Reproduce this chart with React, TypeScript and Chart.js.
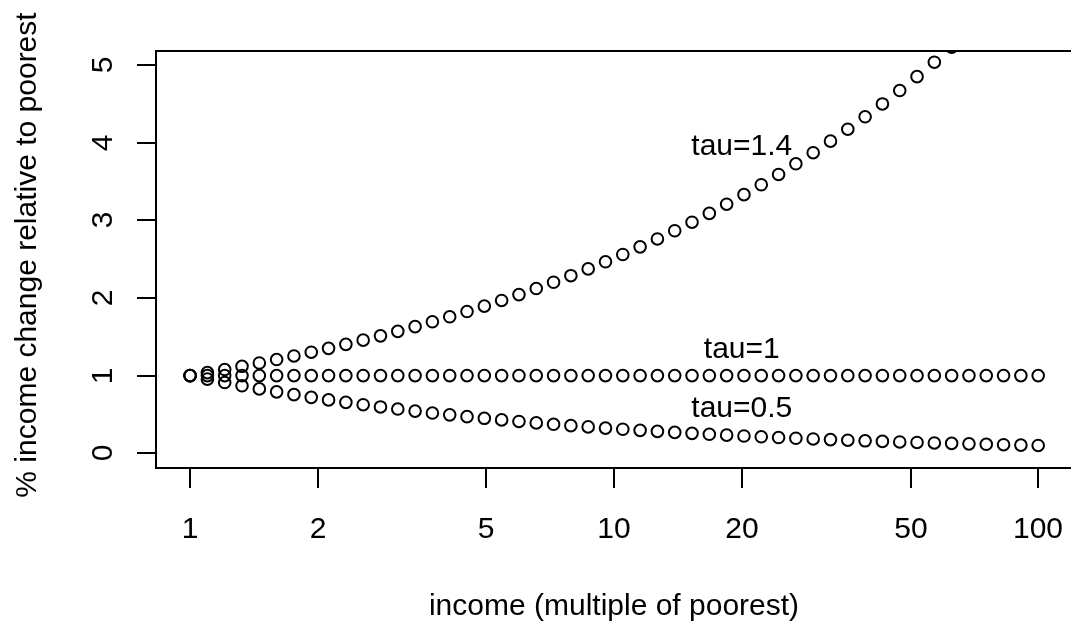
import React, { useEffect, useRef } from "react";
import { Chart, registerables } from "chart.js";

Chart.register(...registerables);

// income, multiples of the poorest (log spaced)
const INCOME = [
  1, 1.0985, 1.2067, 1.3257, 1.4563, 1.5998, 1.7575, 1.9307, 2.121, 2.33,
  2.5595, 2.8118, 3.0888, 3.3932, 3.7276, 4.0949, 4.4984, 4.9417, 5.4287, 5.9636,
  6.5513, 7.1969, 7.906, 8.6851, 9.541, 10.481, 11.514, 12.649, 13.895, 15.264,
  16.768, 18.421, 20.236, 22.23, 24.421, 26.827, 29.471, 32.375, 35.565, 39.069,
  42.919, 47.149, 51.795, 56.899, 62.506, 68.665, 75.431, 82.864, 91.03, 100,
];

const TAU_14 = [
  1, 1.0383, 1.0781, 1.1194, 1.1623, 1.2067, 1.253, 1.301, 1.3508, 1.4026,
  1.4563, 1.5121, 1.57, 1.6301, 1.6926, 1.7575, 1.8248, 1.8947, 1.9673, 2.0427,
  2.121, 2.2022, 2.2866, 2.3742, 2.4652, 2.5595, 2.6577, 2.7595, 2.8652, 2.975,
  3.0888, 3.2072, 3.3301, 3.4577, 3.5902, 3.7276, 3.8705, 4.0188, 4.1727, 4.3326,
  4.4984, 4.6708, 4.8497, 5.0355, 5.2285, 5.4287, 5.6367, 5.8526, 6.0769, 6.3096,
];

const TAU_10 = [
  1, 1, 1, 1, 1, 1, 1, 1, 1, 1,
  1, 1, 1, 1, 1, 1, 1, 1, 1, 1,
  1, 1, 1, 1, 1, 1, 1, 1, 1, 1,
  1, 1, 1, 1, 1, 1, 1, 1, 1, 1,
  1, 1, 1, 1, 1, 1, 1, 1, 1, 1,
];

const TAU_05 = [
  1, 0.9541, 0.9103, 0.8685, 0.8287, 0.7906, 0.7543, 0.7197, 0.6867, 0.6551,
  0.6251, 0.5964, 0.569, 0.5429, 0.5179, 0.4942, 0.4715, 0.4498, 0.4292, 0.4095,
  0.3907, 0.3728, 0.3556, 0.3393, 0.3237, 0.3089, 0.2947, 0.2812, 0.2683, 0.256,
  0.2442, 0.233, 0.2223, 0.2121, 0.2024, 0.1931, 0.1842, 0.1758, 0.1677, 0.16,
  0.1526, 0.1456, 0.1389, 0.1326, 0.1265, 0.1207, 0.1151, 0.1099, 0.1048, 0.1,
];

const X_TICKS = [1, 2, 5, 10, 20, 50, 100];
const Y_TICKS = [0, 1, 2, 3, 4, 5];

const LABEL_TEXT = ["tau=1.4", "tau=1", "tau=0.5"];
const LABEL_X = [20, 20, 20];
const LABEL_Y = [3.98, 1.36, 0.6];

const X_TITLE = "income (multiple of poorest)";
const Y_TITLE = "% income change relative to poorest";

const FONT = '30px "Liberation Sans", Arial, sans-serif';

const rPlotPlugin = {
  id: "rPlot",
  afterDatasetsDraw(chart: any) {
    const ctx = chart.ctx as CanvasRenderingContext2D;
    const { left, top, right, bottom } = chart.chartArea;
    const xs = chart.scales.x;
    const ys = chart.scales.y;
    ctx.save();
    ctx.strokeStyle = "#000";
    ctx.fillStyle = "#000";
    ctx.lineWidth = 2;
    // plot box (its right side lies outside the picture)
    ctx.beginPath();
    ctx.moveTo(right + 20, top);
    ctx.lineTo(left, top);
    ctx.lineTo(left, bottom);
    ctx.lineTo(right + 20, bottom);
    ctx.stroke();

    ctx.font = FONT;
    ctx.textAlign = "center";
    ctx.textBaseline = "alphabetic";
    X_TICKS.forEach((v) => {
      const px = Math.round(xs.getPixelForValue(v));
      ctx.beginPath();
      ctx.moveTo(px, bottom);
      ctx.lineTo(px, bottom + 20);
      ctx.stroke();
      ctx.fillText(String(v), px, 538);
    });

    Y_TICKS.forEach((v) => {
      const py = Math.round(ys.getPixelForValue(v));
      ctx.beginPath();
      ctx.moveTo(left, py);
      ctx.lineTo(left - 19, py);
      ctx.stroke();
      ctx.save();
      ctx.translate(112, py);
      ctx.rotate(-Math.PI / 2);
      ctx.fillText(String(v), 0, 0);
      ctx.restore();
    });

    ctx.fillText(X_TITLE, 614, 615);
    ctx.save();
    ctx.translate(36, 255);
    ctx.rotate(-Math.PI / 2);
    ctx.fillText(Y_TITLE, 0, 0);
    ctx.restore();

    LABEL_TEXT.forEach((t, i) => {
      const px = xs.getPixelForValue(LABEL_X[i]);
      const py = ys.getPixelForValue(LABEL_Y[i]);
      ctx.fillText(t, px, py + 10.7);
    });
    ctx.restore();
  },
};

export default function App() {
  const ref = useRef<HTMLCanvasElement | null>(null);

  useEffect(() => {
    if (!ref.current) return;
    const mk = (ys: number[]) => INCOME.map((x, i) => ({ x, y: ys[i] }));
    const ds = (label: string, ys: number[]) => ({
      label,
      data: mk(ys),
      showLine: false,
      pointStyle: "circle",
      pointRadius: 5.8,
      pointHoverRadius: 5.8,
      pointBorderWidth: 2,
      pointBorderColor: "#000",
      pointBackgroundColor: "rgba(0,0,0,0)",
      clip: 0,
    });
    const chart = new Chart(ref.current, {
      type: "scatter",
      data: {
        datasets: [ds("tau=1.4", TAU_14), ds("tau=1", TAU_10), ds("tau=0.5", TAU_05)],
      },
      options: {
        responsive: true,
        maintainAspectRatio: false,
        animation: false,
        devicePixelRatio: 1,
        layout: { autoPadding: false, padding: { left: 156, top: 51, right: 0, bottom: 156 } },
        plugins: { legend: { display: false }, tooltip: { enabled: false } },
        events: [],
        scales: {
          x: { type: "logarithmic", min: 0.831, max: 119.5, bounds: "data", display: false },
          y: { type: "linear", min: -0.19, max: 5.18, display: false },
        },
      },
      plugins: [rPlotPlugin],
    } as any);
    return () => chart.destroy();
  }, []);

  return (
    <div style={{ position: "absolute", left: 0, top: 0, width: 1071, height: 624, background: "#fff" }}>
      <canvas ref={ref} />
    </div>
  );
}
